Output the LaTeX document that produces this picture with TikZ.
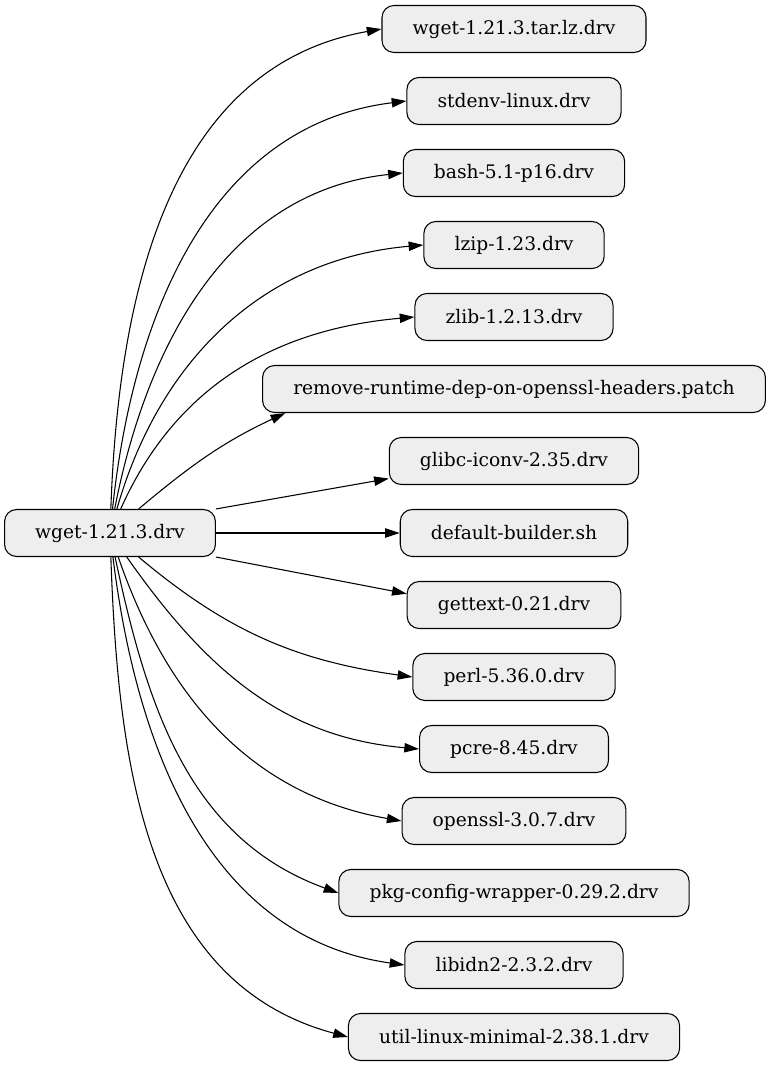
\documentclass[tikz,border=0pt]{standalone}
\usepackage{fontspec}
\setmainfont{DejaVu Serif}
\usetikzlibrary{arrows.meta,positioning}
\definecolor{drvfill}{HTML}{EEEEEE}

\begin{document}
\begin{tikzpicture}[>={Triangle[length=11pt,width=7pt]},line width=0.8pt,node distance=54pt,on grid,
    drv/.style={draw,rounded corners=9pt,fill=drvfill,minimum height=35.25pt,inner xsep=23pt,
        font=\fontsize{14}{16}\selectfont}]
            \useasboundingbox (-82.5pt,-400.5pt) rectangle (495.75pt,399.75pt);
            \node[drv] (wget) {wget-1.21.3.drv};
            \node[drv] (builder) [right=303pt of wget] {default-builder.sh};
            \node[drv] (glibc) [above=of builder] {glibc-iconv-2.35.drv};
            \node[drv] (patch) [above=of glibc] {remove-runtime-dep-on-openssl-headers.patch};
            \node[drv] (zlib) [above=of patch] {zlib-1.2.13.drv};
            \node[drv] (lzip) [above=of zlib] {lzip-1.23.drv};
            \node[drv] (bash) [above=of lzip] {bash-5.1-p16.drv};
            \node[drv] (stdenv) [above=of bash] {stdenv-linux.drv};
            \node[drv] (tarball) [above=of stdenv] {wget-1.21.3.tar.lz.drv};
            \node[drv] (gettext) [below=of builder] {gettext-0.21.drv};
            \node[drv] (perl) [below=of gettext] {perl-5.36.0.drv};
            \node[drv] (pcre) [below=of perl] {pcre-8.45.drv};
            \node[drv] (openssl) [below=of pcre] {openssl-3.0.7.drv};
            \node[drv] (pkgconfig) [below=of openssl] {pkg-config-wrapper-0.29.2.drv};
            \node[drv] (libidn) [below=of pkgconfig] {libidn2-2.3.2.drv};
            \node[drv] (utillinux) [below=of libidn] {util-linux-minimal-2.38.1.drv};
            \path[->]
                (wget)
                    edge [out=88, in=190] (tarball.west)
                    edge [out=84, in=187] (stdenv.west)
                    edge [out=79, in=186] (bash.west)
                    edge [out=74, in=185] (lzip.west)
                    edge [out=66, in=185] (zlib.west)
                    edge [out=40, in=205] (patch.186.5)
                    edge [out=-40, in=172] (perl.west)
                    edge [out=-55, in=175] (pcre.west)
                    edge [out=-71, in=170] (openssl.west)
                    edge [out=-78, in=160] (pkgconfig.west)
                    edge [out=-83, in=172] (libidn.west)
                    edge [out=-88, in=165] (utillinux.west)
                (wget.north east)
                    edge (glibc.188)
                (wget.east)
                    edge (builder.west)
                (wget.south east)
                    edge (gettext.174);
        \end{tikzpicture}
\end{document}
